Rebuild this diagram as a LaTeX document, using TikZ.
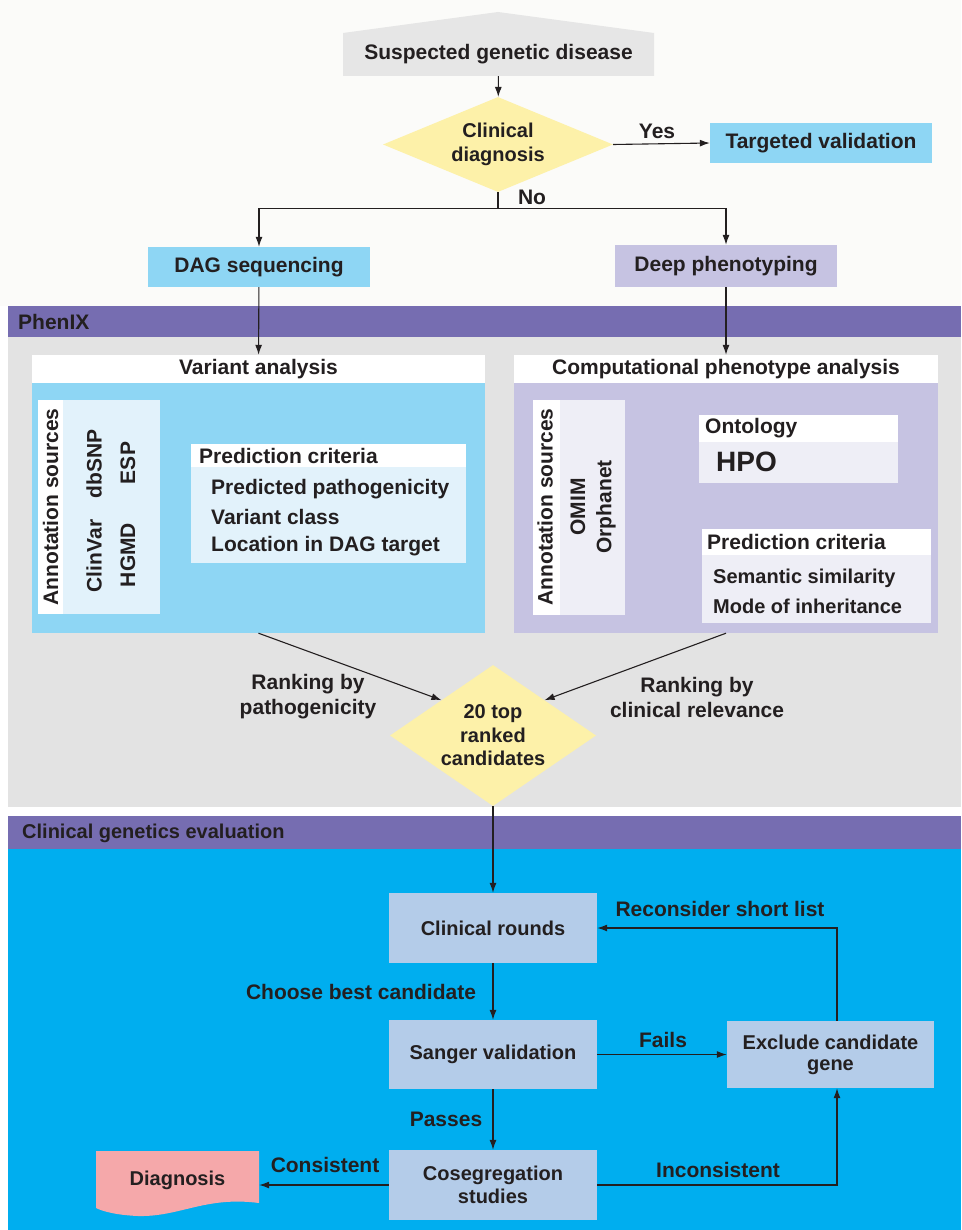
\documentclass[tikz,border=0pt]{standalone}
\usepackage{fontspec}
\setmainfont{Liberation Sans}
\usepackage{tikz}
\usetikzlibrary{calc}
\usetikzlibrary{shapes.geometric}
\usetikzlibrary{arrows.meta}

\definecolor{inkcol}{HTML}{231F20}
\definecolor{topbg}{HTML}{FBFBF9}
\definecolor{suspgray}{HTML}{E6E6E6}
\definecolor{decyellow}{HTML}{FDF1A9}
\definecolor{skyblue}{HTML}{8ED6F4}
\definecolor{lavender}{HTML}{C6C3E2}
\definecolor{paleblue}{HTML}{E2F2FB}
\definecolor{palelav}{HTML}{EEEEF6}
\definecolor{bandpurple}{HTML}{766DB1}
\definecolor{panelgray}{HTML}{E3E3E3}
\definecolor{evalblue}{HTML}{00AEEF}
\definecolor{stepblue}{HTML}{B4CCE9}
\definecolor{diagpink}{HTML}{F5A8AA}

\tikzset{
  txt/.style={font=\bfseries\fontsize{21}{25}\selectfont, text=inkcol, inner sep=0pt, align=center},
  small/.style={font=\bfseries\fontsize{20}{24}\selectfont},
  flow/.style={draw=inkcol, line width=1.1pt, -{Latex[length=10pt,width=7pt]}},
  plain/.style={draw=inkcol, line width=1.1pt},
}

\begin{document}
\begin{tikzpicture}[x=1pt, y=-1pt, every node/.style={txt}]
            % Page and background bands
            \useasboundingbox (0,0) rectangle (961,1230);
            \fill[white] (0,0) rectangle (961,1230);
            \fill[topbg] (0,0) rectangle (961,306);
            \fill[bandpurple] (8,306) rectangle (961,337);
            \fill[panelgray] (8,337) rectangle (961,807);
            \fill[bandpurple] (8,816) rectangle (961,849);
            \fill[evalblue] (8,849) rectangle (961,1230);

            \node[anchor=west] (phenix) at (18,322) {PhenIX};
            \node[anchor=west, small] (evaluation) at (22,833) {Clinical genetics evaluation};

            % Entry and first decision
            \fill[suspgray] (343,33) -- (498,12) -- (654,33) -- (654,76) -- (343,76) -- cycle;
            \node[minimum width=311pt, minimum height=43pt] (suspected) at (498.5,54.5) {Suspected genetic disease};
            \node[diamond, small, fill=decyellow, aspect=2.4, minimum width=230pt, minimum height=95pt] (clindiag) at (498,144.5) {Clinical\\diagnosis};
            \node[fill=skyblue, minimum width=222pt, minimum height=40pt] (targeted) at (821,143) {Targeted validation};
            \node[fill=skyblue, minimum width=222pt, minimum height=40pt] (dagseq) at (259,267) {DAG sequencing};
            \node[fill=lavender, minimum width=222pt, minimum height=42pt] (deeppheno) at (726,266) {Deep phenotyping};

            \draw[flow] (suspected) -- (clindiag);
            \draw[flow] (clindiag.east) -- (targeted.west);
            \node (yes) at (657,131) {Yes};
            \draw[plain] (clindiag.south) -- ++(0,16) coordinate (split);
            \node (no) at (532,197) {No};
            \draw[flow] (split) -| (dagseq.north);
            \draw[flow] (split) -| (deeppheno.north);

            % Variant analysis panel
            \node[fill=white, minimum width=453pt, minimum height=28pt] (varhead) at (258.5,369) {Variant analysis};
            \node[fill=skyblue, minimum width=453pt, minimum height=250pt] (varbody) at (258.5,508) {};
            \fill[white] (38,400) rectangle (63,614);
            \fill[paleblue] (63,400) rectangle (160,614);
            \node[rotate=90] (varsrc) at (50.5,507) {Annotation sources};
            \node[rotate=90] (clinvar) at (94,556) {ClinVar};
            \node[rotate=90] (dbsnp) at (94,464) {dbSNP};
            \node[rotate=90] (hgmd) at (128,555) {HGMD};
            \node[rotate=90] (esp) at (128,463) {ESP};
            \fill[white] (191,444) rectangle (466,467);
            \fill[paleblue] (191,467) rectangle (466,563);
            \node[anchor=west] (varcrit) at (199,456) {Prediction criteria};
            \node[anchor=west] (predpath) at (211,489) {Predicted pathogenicity};
            \node[anchor=west] (varclass) at (211,517) {Variant class};
            \node[anchor=west] (location) at (211,546) {Location in DAG target};
            \draw[flow] (dagseq) -- (varhead);

            % Computational phenotype panel
            \node[fill=white, minimum width=424pt, minimum height=28pt] (comphead) at (726,369) {Computational phenotype analysis};
            \node[fill=lavender, minimum width=424pt, minimum height=250pt] (compbody) at (726,508) {};
            \fill[white] (533,400) rectangle (560,615);
            \fill[palelav] (560,400) rectangle (625,615);
            \node[rotate=90] (compsrc) at (545,507) {Annotation sources};
            \node[rotate=90] (omim) at (578,507) {OMIM};
            \node[rotate=90] (orphanet) at (606,507) {Orphanet};
            \fill[white] (699,415) rectangle (898,442);
            \fill[palelav] (699,442) rectangle (898,483);
            \node[anchor=west] (ontology) at (705,428) {Ontology};
            \node[anchor=west, font=\bfseries\fontsize{28}{32}\selectfont] (hpo) at (716,462) {HPO};
            \fill[white] (702,529) rectangle (931,555);
            \fill[palelav] (702,555) rectangle (931,623);
            \node[anchor=west] (compcrit) at (707,542) {Prediction criteria};
            \node[anchor=west, small] (semantic) at (713,578) {Semantic similarity};
            \node[anchor=west, small] (mode) at (713,606) {Mode of inheritance};
            \draw[flow] (deeppheno) -- (comphead);

            % Ranking
            \node[diamond, small, fill=decyellow, aspect=1.46, minimum width=206pt, minimum height=141pt, font=\bfseries\fontsize{20}{23.5}\selectfont] (topranked) at (493,735.5) {20 top\\ranked\\candidates};
            \draw[flow] (varbody.south) -- (topranked.north west);
            \draw[flow] (compbody.south) -- (topranked.north east);
            \node (rankpath) at (308,697) {Ranking by\\pathogenicity};
            \node (rankclin) at (697,697) {Ranking by\\clinical relevance};

            % Clinical genetics evaluation
            \node[small, fill=stepblue, minimum width=208pt, minimum height=70pt] (rounds) at (493,928) {Clinical rounds};
            \node[small, fill=stepblue, minimum width=208pt, minimum height=69pt] (sanger) at (493,1054.5) {Sanger validation};
            \node[small, fill=stepblue, minimum width=208pt, minimum height=70pt, font=\bfseries\fontsize{20}{23}\selectfont] (coseg) at (493,1185) {Cosegregation\\studies};
            \node[small, fill=stepblue, minimum width=207pt, minimum height=67pt, font=\bfseries\fontsize{20}{21}\selectfont] (exclude) at (830.5,1054.5) {Exclude candidate\\gene};
            \fill[diagpink] (96,1151) -- (259,1151) -- (259,1203)
                .. controls (205,1196) and (180,1217) .. (138,1216)
                .. controls (115,1215) and (102,1211) .. (96,1208) -- cycle;
            \node[small, minimum width=163pt, minimum height=58pt] (diagnosis) at (177.5,1180) {Diagnosis};
            \coordinate (loopx) at (837,0);

            \draw[flow] (topranked.south) -- (rounds.north);
            \draw[flow] (rounds) -- (sanger);
            \draw[flow] (sanger) -- (coseg);
            \draw[flow] (sanger) -- (exclude);
            \draw[flow] (coseg.west) -- (coseg.west -| diagnosis.east);
            \draw[flow] (coseg.east) -| (exclude.south -| loopx);
            \draw[flow] (exclude.north -| loopx) |- (rounds.east);

            \node (choose) at (361,992) {Choose best candidate};
            \node (fails) at (663,1040) {Fails};
            \node (passes) at (446,1119) {Passes};
            \node (consistent) at (325,1165) {Consistent};
            \node (inconsistent) at (718,1170) {Inconsistent};
            \node (reconsider) at (720,909) {Reconsider short list};
\end{tikzpicture}
\end{document}
